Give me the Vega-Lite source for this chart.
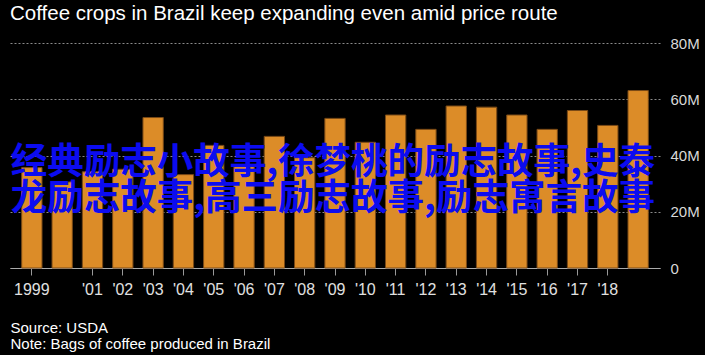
{
  "$schema": "https://vega.github.io/schema/vega-lite/v6.json",
  "width": 650,
  "height": 225,
  "autosize": "none",
  "padding": {"left": 10, "top": 43, "right": 45, "bottom": 87},
  "background": "#000000",
  "config": {
    "view": {"stroke": null},
    "font": "Liberation Sans"
  },
  "title": {
    "text": "Coffee crops in Brazil keep expanding even amid price route",
    "anchor": "start",
    "frame": "group",
    "color": "#ffffff",
    "font": "Liberation Sans",
    "fontSize": 20.5,
    "fontWeight": "normal",
    "baseline": "alphabetic",
    "offset": 14,
    "dy": 18
  },
  "layer": [
    {
      "data": {
        "values": [
          {"year": "1999", "bags_m": 35.7},
          {"year": "2000", "bags_m": 30.6},
          {"year": "2001", "bags_m": 34.2},
          {"year": "2002", "bags_m": 35.1},
          {"year": "2003", "bags_m": 53.5},
          {"year": "2004", "bags_m": 33.2},
          {"year": "2005", "bags_m": 43.6},
          {"year": "2006", "bags_m": 36.5},
          {"year": "2007", "bags_m": 46.8},
          {"year": "2008", "bags_m": 39.2},
          {"year": "2009", "bags_m": 53.2},
          {"year": "2010", "bags_m": 44.7},
          {"year": "2011", "bags_m": 54.4},
          {"year": "2012", "bags_m": 49.3},
          {"year": "2013", "bags_m": 57.6},
          {"year": "2014", "bags_m": 57.2},
          {"year": "2015", "bags_m": 54.4},
          {"year": "2016", "bags_m": 49.3},
          {"year": "2017", "bags_m": 56.0},
          {"year": "2018", "bags_m": 50.7},
          {"year": "2019", "bags_m": 63.1}
        ]
      },
      "mark": {"type": "bar", "color": "#dc8c28", "stroke": "#7a4a16", "strokeWidth": 1},
      "encoding": {
        "x": {
          "field": "year",
          "type": "ordinal",
          "sort": null,
          "scale": {"paddingInner": 0.33, "paddingOuter": 0.386},
          "axis": {
            "values": ["1999","2001","2002","2003","2004","2005","2006","2007","2008","2009","2010","2011","2012","2013","2014","2015","2016","2017","2018"],
            "labelExpr": "datum.value == '1999' ? '1999' : \"'\" + slice(datum.value, 2)",
            "labelAngle": 0,
            "labelColor": "#e0e0e0",
            "labelFontSize": 16,
            "labelPadding": 6,
            "domainColor": "#aaaaaa",
            "tickColor": "#999999",
            "tickSize": 7,
            "title": ["Source: USDA", "Note: Bags of coffee produced in Brazil"],
            "titleColor": "#ffffff",
            "titleFontSize": 15,
            "titleFontWeight": "normal",
            "titleAlign": "left",
            "titleAnchor": "start",
            "titleBaseline": "top",
            "titleLineHeight": 16,
            "titleX": 0,
            "titleY": 52
          }
        },
        "y": {
          "field": "bags_m",
          "type": "quantitative",
          "scale": {"domain": [0, 80]},
          "axis": {
            "orient": "right",
            "values": [0, 20, 40, 60, 80],
            "labelExpr": "datum.value == 0 ? '0' : datum.value + 'M'",
            "labelColor": "#d8d8d8",
            "labelFontSize": 15,
            "labelPadding": 10,
            "ticks": false,
            "domain": false,
            "grid": true,
            "gridColor": "#8a8a8a",
            "gridDash": [2, 2],
            "gridWidth": 1,
            "title": null
          }
        }
      }
    },
    {
      "data": {
        "values": [
          {"watermark": ["经典励志小故事,徐梦桃的励志故事,史泰", "龙励志故事,高三励志故事,励志寓言故事"]}
        ]
      },
      "mark": {
        "type": "text",
        "font": "Noto Sans CJK SC",
        "fontWeight": "bold",
        "fontSize": 36.5,
        "lineHeight": 36,
        "color": "#0c0cf0",
        "align": "left",
        "baseline": "middle",
        "dx": -11
      },
      "encoding": {
        "text": {"field": "watermark"},
        "x": {"datum": "1999", "bandPosition": 0},
        "y": {"datum": 37.3}
      }
    }
  ]
}
